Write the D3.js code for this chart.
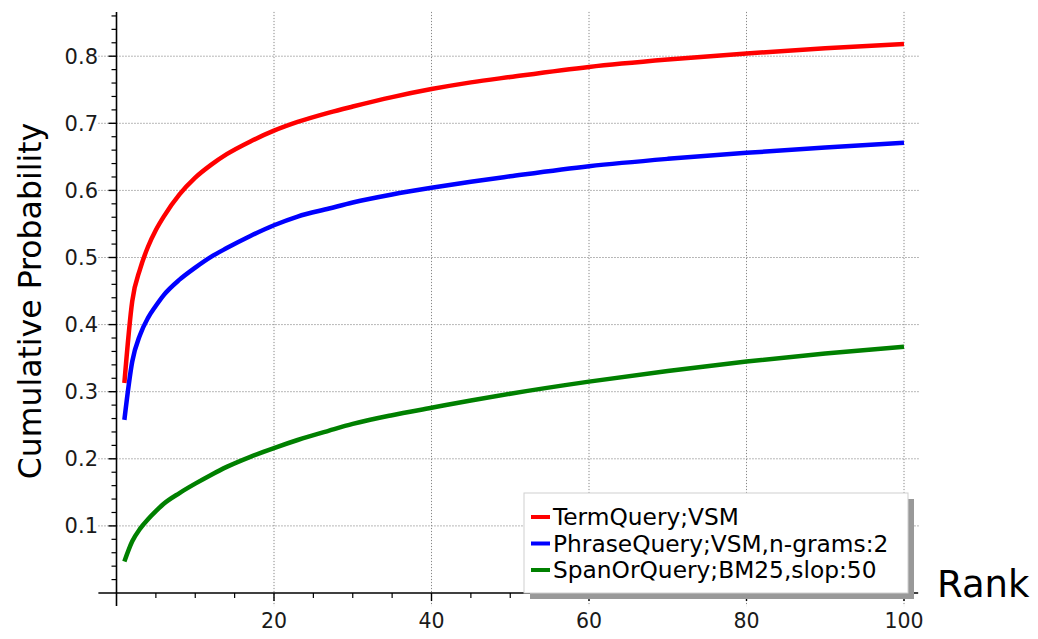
<!DOCTYPE html>
<html>
<head>
<meta charset="utf-8">
<script src="https://cdn.jsdelivr.net/npm/d3@7"></script>
<style>
  html, body { margin: 0; padding: 0; background: #fff; }
  svg { display: block; font-family: "DejaVu Sans", sans-serif; }
</style>
</head>
<body>
<svg id="chart" width="1038" height="639"></svg>
<script>
// Sampled ranks shared by every series
const ranks = [1, 2, 3, 4, 5, 6, 8, 10, 12, 14, 17, 20, 23, 27, 30, 35, 40, 45, 50, 60, 70, 80, 90, 100];

// Cumulative probability at each rank
const termQueryVSM = [0.313, 0.435, 0.483, 0.516, 0.541, 0.561, 0.594, 0.619, 0.638, 0.654, 0.673, 0.689,
  0.702, 0.716, 0.725, 0.739, 0.751, 0.761, 0.769, 0.784, 0.795, 0.804, 0.812, 0.818];
const phraseQueryVSM = [0.258, 0.345, 0.385, 0.410, 0.428, 0.444, 0.467, 0.485, 0.501, 0.514, 0.532, 0.548,
  0.561, 0.573, 0.582, 0.594, 0.604, 0.613, 0.621, 0.636, 0.647, 0.656, 0.664, 0.671];
const spanOrQueryBM25 = [0.047, 0.077, 0.096, 0.110, 0.122, 0.133, 0.149, 0.163, 0.176, 0.188, 0.203, 0.216,
  0.228, 0.242, 0.252, 0.265, 0.276, 0.287, 0.297, 0.315, 0.331, 0.345, 0.357, 0.367];

const seriesNames = ["TermQuery;VSM", "PhraseQuery;VSM,n-grams:2", "SpanOrQuery;BM25,slop:50"];
const seriesColors = ["#ff0000", "#0000ff", "#008000"];
const seriesValues = [termQueryVSM, phraseQueryVSM, spanOrQueryBM25];

const xTicks = [20, 40, 60, 80, 100];
const yTicks = [0.1, 0.2, 0.3, 0.4, 0.5, 0.6, 0.7, 0.8];

const svg = d3.select("#chart");

// Axes cross at the origin; the plotted region runs a little past the data on every side
const xDomain = [-2.3, 101.8];
const yDomain = [-0.0195, 0.866];
const x = d3.scaleLinear().domain([0, 100]).range([116.5, 904]);
const y = d3.scaleLinear().domain([0, 0.8]).range([593, 56.2]);

const plotLeft = x(xDomain[0]), plotRight = x(xDomain[1]);
const plotTop = y(yDomain[1]), plotBottom = y(yDomain[0]);

// Dotted grid
const grid = svg.append("g").attr("stroke", "#888").attr("stroke-width", 1)
  .attr("stroke-dasharray", "1.2,1.8");
grid.selectAll("line.gx").data(xTicks).join("line")
  .attr("x1", d => x(d)).attr("x2", d => x(d))
  .attr("y1", plotTop).attr("y2", plotBottom);
grid.selectAll("line.gy").data(yTicks).join("line")
  .attr("y1", d => y(d)).attr("y2", d => y(d))
  .attr("x1", plotLeft).attr("x2", plotRight + 2);

// Curves
const line = d3.line()
  .x(d => x(d[0]))
  .y(d => y(d[1]))
  .curve(d3.curveMonotoneX);

seriesValues.forEach((vals, i) => {
  svg.append("path")
    .datum(ranks.map((r, j) => [r, vals[j]]))
    .attr("d", line)
    .attr("fill", "none")
    .attr("stroke", seriesColors[i])
    .attr("stroke-width", 4.5)
    .attr("stroke-linejoin", "round")
    .attr("stroke-linecap", "butt");
});

// Axis lines through the origin
const axes = svg.append("g").attr("stroke", "#000").attr("stroke-width", 1.6);
axes.append("line").attr("x1", plotLeft).attr("x2", plotRight).attr("y1", y(0)).attr("y2", y(0));
axes.append("line").attr("x1", x(0)).attr("x2", x(0)).attr("y1", plotTop).attr("y2", plotBottom);

// Minor and major ticks on the x axis
const xMinor = d3.range(5, 101, 5).filter(v => v % 20 !== 0);
svg.append("g").attr("stroke", "#000").attr("stroke-width", 1.2)
  .selectAll("line").data(xMinor).join("line")
  .attr("x1", d => x(d)).attr("x2", d => x(d))
  .attr("y1", y(0)).attr("y2", y(0) + 5);
svg.append("g").attr("stroke", "#000").attr("stroke-width", 1.4)
  .selectAll("line").data(xTicks).join("line")
  .attr("x1", d => x(d)).attr("x2", d => x(d))
  .attr("y1", y(0)).attr("y2", y(0) + 8);

// Minor and major ticks on the y axis
const yMinor = d3.range(0.02, 0.87, 0.02).filter(v => Math.abs(v * 10 - Math.round(v * 10)) > 1e-6);
svg.append("g").attr("stroke", "#000").attr("stroke-width", 1.2)
  .selectAll("line").data(yMinor).join("line")
  .attr("y1", d => y(d)).attr("y2", d => y(d))
  .attr("x1", x(0) - 5).attr("x2", x(0));
svg.append("g").attr("stroke", "#000").attr("stroke-width", 1.4)
  .selectAll("line").data(yTicks).join("line")
  .attr("y1", d => y(d)).attr("y2", d => y(d))
  .attr("x1", x(0) - 8).attr("x2", x(0));

// Tick labels
svg.append("g").attr("font-size", 20.5).attr("fill", "#1a1a1a").attr("text-anchor", "middle")
  .selectAll("text").data(xTicks).join("text")
  .attr("x", d => x(d)).attr("y", 628)
  .text(d => d);
svg.append("g").attr("font-size", 21).attr("fill", "#1a1a1a").attr("text-anchor", "end")
  .selectAll("text").data(yTicks).join("text")
  .attr("x", 98).attr("y", d => y(d)).attr("dy", "0.36em")
  .text(d => d3.format(".1f")(d));

// Axis titles
svg.append("text")
  .attr("transform", "translate(41,301) rotate(-90)")
  .attr("text-anchor", "middle")
  .attr("font-size", 31.5)
  .attr("fill", "#000")
  .text("Cumulative Probability");
svg.append("text")
  .attr("x", 937).attr("y", 597)
  .attr("font-size", 37)
  .attr("fill", "#000")
  .text("Rank");

// Legend with drop shadow
const lg = { x: 524, y: 493, w: 384, h: 100 };
const legend = svg.append("g");
legend.append("rect")
  .attr("x", lg.x + 6).attr("y", lg.y + 6).attr("width", lg.w).attr("height", lg.h)
  .attr("fill", "#999");
legend.append("rect")
  .attr("x", lg.x).attr("y", lg.y).attr("width", lg.w).attr("height", lg.h)
  .attr("fill", "#fff").attr("stroke", "#cfcfcf").attr("stroke-width", 1);
const rows = legend.selectAll("g.row").data(seriesNames).join("g")
  .attr("transform", (d, i) => `translate(${lg.x}, ${517 + i * 26.5})`);
rows.append("line")
  .attr("x1", 7).attr("x2", 26).attr("y1", 0).attr("y2", 0)
  .attr("stroke", (d, i) => seriesColors[i]).attr("stroke-width", 4);
rows.append("text")
  .attr("x", 29).attr("y", 0).attr("dy", "0.36em")
  .attr("font-size", 23.3).attr("fill", "#000")
  .text(d => d);
</script>
</body>
</html>
